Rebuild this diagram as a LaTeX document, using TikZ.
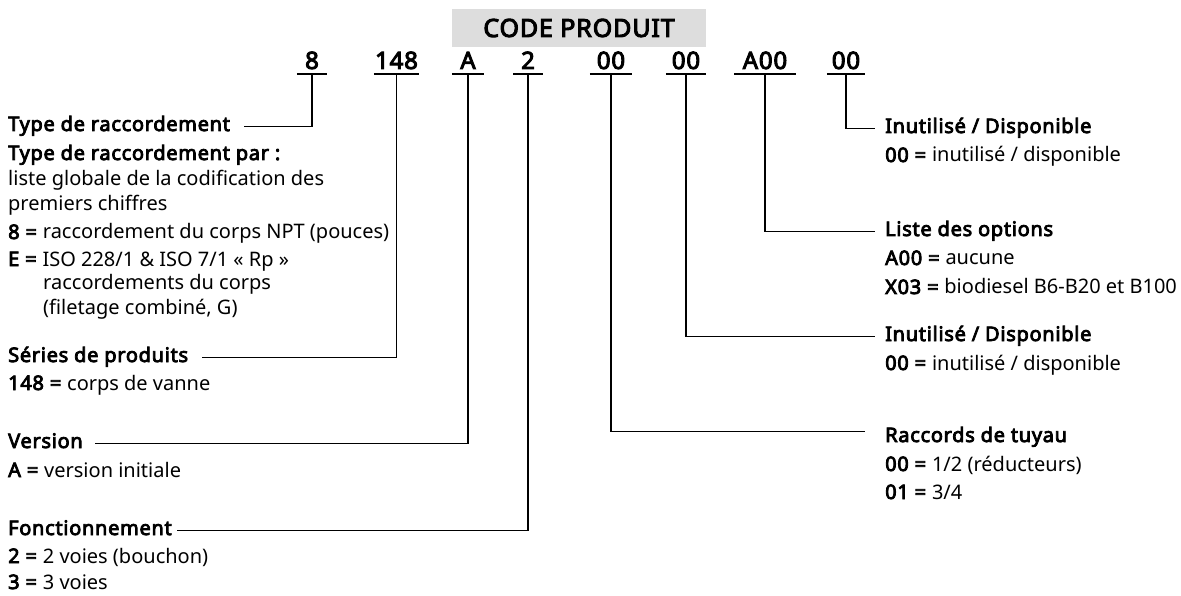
\documentclass[tikz,border=0pt]{standalone}
\usepackage{fontspec}
\setmainfont{Noto Sans}[BoldFont={Noto Sans}, BoldFeatures={FakeBold=4, LetterSpace=3.5}]
\definecolor{bandgray}{RGB}{221,221,221}
\begin{document}
\begin{tikzpicture}[x=1pt,y=-1pt,
  txt/.style={anchor=base west, inner sep=0pt, font=\fontsize{20}{24}\selectfont},
  head/.style={txt, font=\fontsize{20}{24}\selectfont\bfseries, text height=14pt, text depth=4.5pt},
  code/.style={anchor=base, inner sep=0pt, font=\fontsize{24}{28}\selectfont\bfseries},
  wire/.style={line width=1.2pt, line join=miter}]
\useasboundingbox (0,0) rectangle (1181,596);

% title band
\node[fill=bandgray, minimum width=254pt, minimum height=38pt, inner sep=0pt,
      font=\fontsize{25}{30}\selectfont\bfseries] (title) at (579,28) {CODE PRODUIT};

% code digits and their underlines
\coordinate (ul) at (0,74);
\node[code, minimum width=30pt] (c1) at (312,69) {8};
\node[code, minimum width=45pt] (c2) at (396.5,69) {148};
\node[code, minimum width=32pt] (c3) at (468,69) {A};
\node[code, minimum width=29pt] (c4) at (528,69) {2};
\node[code, minimum width=42pt] (c5) at (611,69) {00};
\node[code, minimum width=40pt] (c6) at (686,69) {00};
\node[code, minimum width=61pt] (c7) at (765,69) {A00};
\node[code, minimum width=38pt] (c8) at (846,69) {00};
\foreach \c in {c1,c2,c3,c4,c5,c6,c7,c8}
  \draw[wire] (\c.west |- ul) -- (\c.east |- ul);

% left column
\node[head] (h1) at (8,131) {Type de raccordement};
\node[head] (h1b) at (8,160) {Type de raccordement par :};
\node[txt] (t1a) at (8,186) {liste globale de la codification des};
\node[txt] (t1b) at (8,211) {premiers chiffres};
\node[txt] (t1c) at (8,239) {\textbf{8 =} raccordement du corps NPT (pouces)};
\node[txt] (t1d) at (8,266) {\textbf{E =} ISO 228/1 \& ISO 7/1 «~Rp~»};
\node[txt] (t1e) at (43,290) {raccordements du corps};
\node[txt] (t1f) at (43,314) {(filetage combiné, G)};

\node[head] (h2) at (8,362) {Séries de produits};
\node[txt] (t2a) at (8,390) {\textbf{148 =} corps de vanne};

\node[head] (h3) at (8,448) {Version};
\node[txt] (t3a) at (8,477) {\textbf{A =} version initiale};

\node[head] (h4) at (8,535) {Fonctionnement};
\node[txt] (t4a) at (8,563) {\textbf{2 =} 2 voies (bouchon)};
\node[txt] (t4b) at (8,589) {\textbf{3 =} 3 voies};

% right column
\node[head] (h8) at (885,133) {Inutilisé / Disponible};
\node[txt] (t8a) at (885,162) {\textbf{00 =} inutilisé / disponible};

\node[head] (h7) at (885,236) {Liste des options};
\node[txt] (t7a) at (885,265) {\textbf{A00 =} aucune};
\node[txt] (t7b) at (885,294) {\textbf{X03 =} biodiesel B6-B20 et B100};

\node[head] (h6) at (885,341) {Inutilisé / Disponible};
\node[txt] (t6a) at (885,370) {\textbf{00 =} inutilisé / disponible};

\node[head] (h5) at (885,442) {Raccords de tuyau};
\node[txt] (t5a) at (885,471) {\textbf{00 =} 1/2 (réducteurs)};
\node[txt] (t5b) at (885,499) {\textbf{01 =} 3/4};

% leader lines
\draw[wire] (c1.base |- ul) |- ([xshift=14pt]h1.east);
\draw[wire] (c2.base |- ul) |- ([xshift=14pt]h2.east);
\draw[wire] (c3.base |- ul) |- ([xshift=12pt]h3.east);
\draw[wire] (c4.base |- ul) |- ([xshift=5pt]h4.east);
\draw[wire] (c5.base |- ul) |- ([xshift=-20pt,yshift=6pt]h5.west);
\draw[wire] (c6.base |- ul) |- ([xshift=-10pt]h6.west);
\draw[wire] (c7.base |- ul) |- ([xshift=-10pt]h7.west);
\draw[wire] (c8.base |- ul) |- ([xshift=-10pt]h8.west);
\end{tikzpicture}
\end{document}
